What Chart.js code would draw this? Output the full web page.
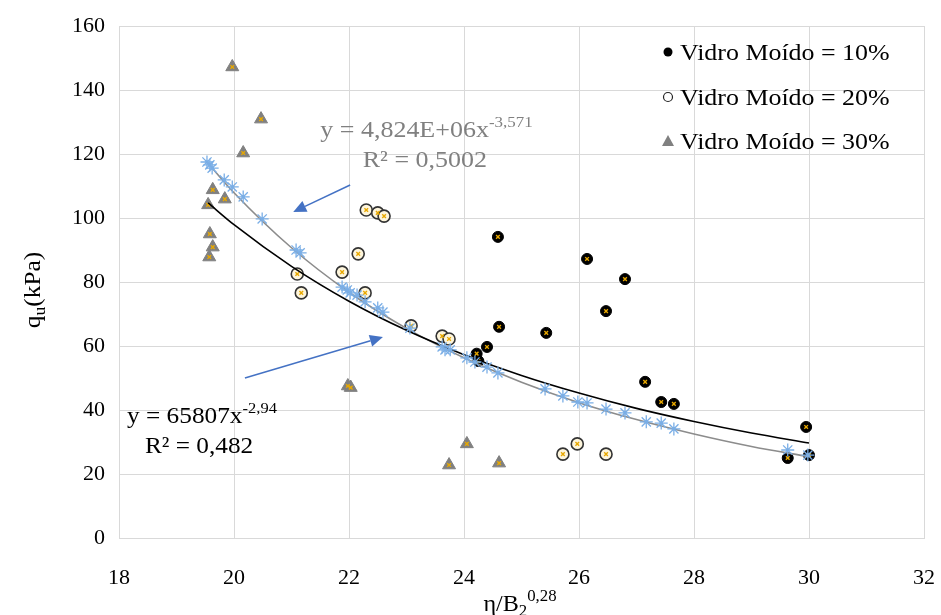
<!DOCTYPE html>
<html lang="pt">
<head>
  <meta charset="utf-8">
  <title>qu x η/B2^0,28</title>
  <script src="https://cdn.jsdelivr.net/npm/chart.js"></script>
  <style>
    html, body { margin: 0; padding: 0; background: #fff; }
    #wrap { width: 941px; height: 615px; }
  </style>
</head>
<body>
  <div id="wrap"><canvas id="chart" width="941" height="615"></canvas></div>
  <script>
    // Vidro Moído = 10%
    const v10X = [24.59, 26.14, 26.80, 26.47, 24.61, 25.43, 24.40, 24.22, 24.25, 27.15, 27.43, 27.65, 29.63, 29.95, 30.00];
    const v10Y = [94.1, 87.2, 80.9, 70.9, 66.0, 64.1, 59.7, 57.6, 55.3, 48.8, 42.5, 41.9, 25.0, 34.7, 25.9];
    // Vidro Moído = 20%
    const v20X = [22.30, 22.50, 22.61, 22.16, 21.88, 21.10, 21.17, 22.28, 23.08, 23.62, 23.74, 25.72, 25.97, 26.47];
    const v20Y = [102.5, 101.6, 100.6, 88.8, 83.1, 82.5, 76.6, 76.6, 66.3, 63.1, 62.2, 26.2, 29.4, 26.2];
    // Vidro Moído = 30%
    const v30X = [19.97, 20.47, 20.16, 19.63, 19.84, 19.55, 19.58, 19.63, 19.57, 21.98, 22.03, 24.05, 23.74, 24.61];
    const v30Y = [147.2, 130.9, 120.3, 108.8, 105.9, 104.1, 95.0, 90.9, 87.8, 47.5, 47.0, 29.4, 22.8, 23.4];
    // asteriscos azuis
    const starX = [19.53, 19.58, 19.62, 19.83, 19.97, 20.16, 20.49, 21.08, 21.15, 21.88, 21.97, 22.02, 22.14, 22.28, 22.50, 22.59, 23.06, 23.62, 23.67, 23.76, 24.05, 24.19, 24.40, 24.59, 25.41, 25.72, 25.98, 26.14, 26.47, 26.80, 27.17, 27.43, 27.65, 29.63, 29.98];
    const starY = [117.5, 116.6, 115.6, 111.9, 109.7, 106.6, 99.7, 90.0, 89.1, 78.4, 77.5, 76.6, 75.9, 73.8, 71.9, 70.6, 65.6, 59.7, 58.8, 58.8, 56.3, 55.0, 53.4, 51.6, 46.6, 44.4, 42.5, 42.2, 40.3, 39.1, 36.3, 35.9, 34.1, 27.5, 25.9];
    // linhas de tendência
    const blackCurveX = [19.55, 20, 21, 22, 23, 24, 25, 26, 27, 28, 29, 30];
    const blackCurveY = [104.7, 97.9, 84.9, 74.0, 64.9, 57.3, 50.8, 45.3, 40.5, 36.4, 32.8, 29.7];
    const grayCurveX = [19.53, 20, 21, 22, 23, 24, 25, 26, 27, 28, 29, 30];
    const grayCurveY = [117.5, 107.9, 90.7, 76.8, 65.5, 56.3, 48.7, 42.3, 37.0, 32.5, 28.6, 25.4];

    const legendLabels = ['Vidro Moído = 10%', 'Vidro Moído = 20%', 'Vidro Moído = 30%'];

    const serif = '"Liberation Serif", "Times New Roman", serif';
    const pts = (xs, ys) => xs.map((x, i) => ({ x: x, y: ys[i] }));
    const gold = '#e8a800';

    // texto com sub/sobrescrito, com leve alongamento horizontal
    function richText(ctx, parts, x, y, align, color, sx) {
      sx = sx || 1;
      ctx.save();
      ctx.fillStyle = color;
      ctx.textBaseline = 'alphabetic';
      ctx.textAlign = 'left';
      let total = 0;
      parts.forEach(p => { ctx.font = p.size + 'px ' + serif; total += ctx.measureText(p.t).width; });
      total *= sx;
      const x0 = align === 'center' ? x - total / 2 : x;
      ctx.translate(x0, y);
      ctx.scale(sx, 1);
      let cx = 0;
      parts.forEach(p => {
        ctx.font = p.size + 'px ' + serif;
        ctx.fillText(p.t, cx, p.dy || 0);
        cx += ctx.measureText(p.t).width;
      });
      ctx.restore();
    }

    function arrow(ctx, x1, y1, x2, y2) {
      const a = Math.atan2(y2 - y1, x2 - x1);
      const len = 13, w = 6;
      ctx.save();
      ctx.strokeStyle = '#4472c4';
      ctx.fillStyle = '#4472c4';
      ctx.lineWidth = 1.5;
      ctx.beginPath();
      ctx.moveTo(x1, y1);
      ctx.lineTo(x2 - len * Math.cos(a), y2 - len * Math.sin(a));
      ctx.stroke();
      ctx.beginPath();
      ctx.moveTo(x2, y2);
      ctx.lineTo(x2 - len * Math.cos(a) + w * Math.sin(a), y2 - len * Math.sin(a) - w * Math.cos(a));
      ctx.lineTo(x2 - len * Math.cos(a) - w * Math.sin(a), y2 - len * Math.sin(a) + w * Math.cos(a));
      ctx.closePath();
      ctx.fill();
      ctx.restore();
    }

    const extras = {
      id: 'extras',
      afterDraw(chart) {
        const ctx = chart.ctx;
        const sx = chart.scales.x, sy = chart.scales.y;
        const px = v => sx.getPixelForValue(v), py = v => sy.getPixelForValue(v);

        // setas
        arrow(ctx, px(22.02), py(110.3), px(21.03), py(101.9));
        arrow(ctx, px(20.19), py(50.0), px(22.59), py(62.8));

        // equações
        richText(ctx, [{ t: 'y = 4,824E+06x', size: 23 }, { t: '-3,571', size: 15, dy: -10 }], px(21.50), py(125.3), 'left', '#808080', 1.13);
        richText(ctx, [{ t: 'R² = 0,5002', size: 23 }], px(23.32), py(115.9), 'center', '#808080', 1.13);
        richText(ctx, [{ t: 'y = 65807x', size: 23 }, { t: '-2,94', size: 15, dy: -10 }], px(18.14), py(35.9), 'left', '#000', 1.1);
        richText(ctx, [{ t: 'R² = 0,482', size: 23 }], px(18.45), py(26.6), 'left', '#000', 1.1);

        // títulos dos eixos
        richText(ctx, [{ t: 'η/B', size: 23 }, { t: '2', size: 16, dy: 5 }, { t: '0,28', size: 16, dy: -10 }], 520, 611, 'center', '#000', 1.05);
        ctx.save();
        ctx.translate(40, 290);
        ctx.rotate(-Math.PI / 2);
        richText(ctx, [{ t: 'q', size: 23 }, { t: 'u', size: 16, dy: 5 }, { t: '(kPa)', size: 23 }], 0, 0, 'center', '#000', 1.1);
        ctx.restore();

        // legenda
        const ly = [52, 97, 141];
        legendLabels.forEach((lab, i) => {
          const mx = 668, my = ly[i];
          ctx.save();
          ctx.beginPath();
          if (i === 0) {
            ctx.arc(mx, my, 4.5, 0, Math.PI * 2);
            ctx.fillStyle = '#000'; ctx.fill();
          } else if (i === 1) {
            ctx.arc(mx, my, 4.5, 0, Math.PI * 2);
            ctx.fillStyle = '#fff'; ctx.fill();
            ctx.strokeStyle = '#222'; ctx.lineWidth = 1.2; ctx.stroke();
          } else {
            ctx.moveTo(mx - 6, my + 5); ctx.lineTo(mx + 6, my + 5); ctx.lineTo(mx, my - 6); ctx.closePath();
            ctx.fillStyle = '#808080'; ctx.fill();
          }
          ctx.restore();
          richText(ctx, [{ t: lab, size: 24 }], 680, my + 8, 'left', '#000', 1.08);
        });
      }
    };

    const crossSet = (data, order) => ({
      data: data, showLine: false, pointStyle: 'crossRot', pointRadius: 2.6,
      borderColor: gold, borderWidth: 1.4, backgroundColor: gold, order: order
    });

    new Chart(document.getElementById('chart').getContext('2d'), {
      type: 'scatter',
      data: {
        datasets: [
          { data: pts(starX, starY), pointStyle: 'star', pointRadius: 6.5, borderColor: '#7aaee6', backgroundColor: '#7aaee6', borderWidth: 1.3, order: 1 },
          { data: pts(blackCurveX, blackCurveY), showLine: true, pointRadius: 0, borderColor: '#000', borderWidth: 1.6, cubicInterpolationMode: 'monotone', order: 2 },
          { data: pts(grayCurveX, grayCurveY), showLine: true, pointRadius: 0, borderColor: '#8c8c8c', borderWidth: 1.6, cubicInterpolationMode: 'monotone', order: 3 },
          crossSet(pts(v10X, v10Y), 4),
          { data: pts(v10X, v10Y), pointStyle: 'circle', pointRadius: 5.5, backgroundColor: '#000', borderColor: '#000', borderWidth: 1, order: 5 },
          crossSet(pts(v20X, v20Y), 6),
          { data: pts(v20X, v20Y), pointStyle: 'circle', pointRadius: 6, backgroundColor: '#fdf5dc', borderColor: '#333', borderWidth: 1.6, order: 7 },
          crossSet(pts(v30X, v30Y), 8),
          { data: pts(v30X, v30Y), pointStyle: 'triangle', pointRadius: 7.5, backgroundColor: '#808080', borderColor: '#808080', borderWidth: 1, order: 9 }
        ]
      },
      options: {
        responsive: false,
        animation: false,
        layout: { padding: { top: 26, right: 17, left: 0, bottom: 0 } },
        plugins: { legend: { display: false }, tooltip: { enabled: false } },
        scales: {
          x: {
            type: 'linear', min: 18, max: 32,
            ticks: { stepSize: 2, padding: 27, color: '#000', font: { family: serif, size: 22 } },
            grid: { color: '#d9d9d9', drawTicks: false },
            border: { color: '#d9d9d9' },
            afterFit: s => { s.height = 77; s.paddingLeft = 0; s.paddingRight = 0; }
          },
          y: {
            type: 'linear', min: 0, max: 160,
            ticks: { stepSize: 20, padding: 14, color: '#000', font: { family: serif, size: 22 } },
            grid: { color: '#d9d9d9', drawTicks: false },
            border: { color: '#d9d9d9' },
            afterFit: s => { s.width = 119; s.paddingTop = 0; s.paddingBottom = 0; }
          }
        }
      },
      plugins: [extras]
    });
  </script>
</body>
</html>
